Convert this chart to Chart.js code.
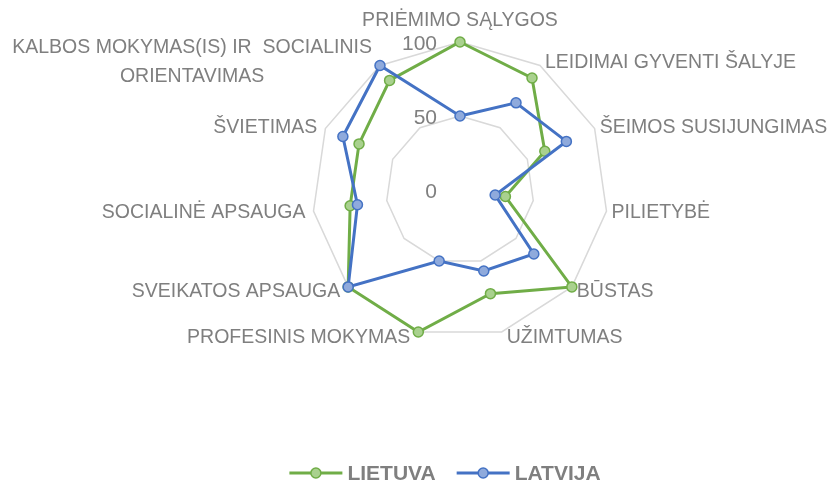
<!DOCTYPE html>
<html lang="lt">
<head>
    <meta charset="UTF-8" />
    <title>Radar</title>
    <script src="https://cdn.jsdelivr.net/npm/chart.js"></script>
    <style>
        body {
            margin: 0;
            padding: 0;
            background: #ffffff;
        }

        .chart-container {
            width: 832px;
            height: 482px;
        }
    </style>
</head>
<body>
    <div class="chart-container">
        <canvas id="myChart"></canvas>
    </div>

    <script>
        // Data
        const categories = [
            "PRIĖMIMO SĄLYGOS",
            "LEIDIMAI GYVENTI ŠALYJE",
            "ŠEIMOS SUSIJUNGIMAS",
            "PILIETYBĖ",
            "BŪSTAS",
            "UŽIMTUMAS",
            "PROFESINIS MOKYMAS",
            "SVEIKATOS APSAUGA",
            "SOCIALINĖ APSAUGA",
            "ŠVIETIMAS",
            ["KALBOS MOKYMAS(IS) IR  SOCIALINIS", "ORIENTAVIMAS"]
        ];
        const lietuva = [100, 90, 63, 31, 100, 73, 100, 100, 75, 75, 88];
        const latvija = [50, 70, 79, 24, 66, 57, 50, 100, 70, 87, 100];
        const tickValues = [0, 50, 100];

        const FONT = "'Liberation Sans', Arial, sans-serif";
        const GREY = "#7f7f7f";

        // Point labels placed next to the outer ring, Excel style
        const pointLabelPlugin = {
            id: "excelPointLabels",
            afterDraw(chart) {
                const s = chart.scales.r;
                const ctx = chart.ctx;
                ctx.save();
                ctx.font = "19.5px " + FONT;
                ctx.fillStyle = GREY;
                ctx.textBaseline = "middle";
                const lh = 29;
                s._pointLabels.forEach((lab, i) => {
                    const a = s.getIndexAngle(i);
                    const sin = Math.sin(a), cos = Math.cos(a);
                    const v = s.getPointPosition(i, s.drawingArea);
                    const lines = Array.isArray(lab) ? lab : [lab];
                    const maxW = Math.max(...lines.map(l => ctx.measureText(l).width));
                    let cx, yMid;
                    if (Math.abs(sin) < 0.05) {
                        cx = v.x;
                        yMid = v.y - 21;
                    } else if (sin > 0) {
                        cx = v.x + 5 + maxW / 2;
                        yMid = v.y - 5 * cos + 1;
                    } else {
                        cx = v.x - 8 - maxW / 2;
                        yMid = v.y - 5 * cos + 1;
                    }
                    ctx.textAlign = "center";
                    lines.forEach((l, k) => {
                        ctx.fillText(l, cx, yMid + (k - (lines.length - 1) / 2) * lh);
                    });
                });
                ctx.restore();
            }
        };

        // Tick labels to the left of the vertical axis
        const tickLabelPlugin = {
            id: "excelTicks",
            afterDraw(chart) {
                const s = chart.scales.r;
                const ctx = chart.ctx;
                ctx.save();
                ctx.font = "21px " + FONT;
                ctx.fillStyle = GREY;
                ctx.textAlign = "right";
                ctx.textBaseline = "middle";
                s.ticks.forEach(t => {
                    const y = s.yCenter - s.getDistanceFromCenterForValue(t.value);
                    ctx.fillText(String(t.value), s.xCenter - 23, y + 2);
                });
                ctx.restore();
            }
        };

        // Legend with line + marker samples
        const legendPlugin = {
            id: "excelLegend",
            afterDraw(chart) {
                const ctx = chart.ctx;
                const sets = chart.data.datasets;
                ctx.save();
                ctx.font = "bold 21px " + FONT;
                ctx.textBaseline = "middle";
                ctx.textAlign = "left";
                const lineLen = 53, gap = 5, spacing = 21;
                const widths = sets.map(d => lineLen + gap + ctx.measureText(d.label).width);
                const total = widths.reduce((a, b) => a + b, 0) + spacing * (sets.length - 1);
                let x = 445 - total / 2;
                const y = 473;
                sets.forEach((d, i) => {
                    ctx.strokeStyle = d.borderColor;
                    ctx.lineWidth = 3;
                    ctx.beginPath();
                    ctx.moveTo(x, y);
                    ctx.lineTo(x + lineLen, y);
                    ctx.stroke();
                    ctx.beginPath();
                    ctx.arc(x + lineLen / 2, y, 5, 0, Math.PI * 2);
                    ctx.fillStyle = d.pointBackgroundColor;
                    ctx.fill();
                    ctx.lineWidth = 1.5;
                    ctx.strokeStyle = d.pointBorderColor;
                    ctx.stroke();
                    ctx.fillStyle = GREY;
                    ctx.fillText(d.label, x + lineLen + gap, y + 1);
                    x += widths[i] + spacing;
                });
                ctx.restore();
            }
        };

        const ctx = document.getElementById("myChart").getContext("2d");
        const myChart = new Chart(ctx, {
            type: "radar",
            data: {
                labels: categories,
                datasets: [
                    {
                        label: "LIETUVA",
                        data: lietuva,
                        borderColor: "#70ad47",
                        backgroundColor: "#70ad47",
                        borderWidth: 3,
                        pointBackgroundColor: "#a9d18e",
                        pointBorderColor: "#70ad47",
                        pointBorderWidth: 1.5,
                        pointRadius: 5,
                        fill: false,
                        order: 1,
                        clip: false,
                    },
                    {
                        label: "LATVIJA",
                        data: latvija,
                        borderColor: "#4472c4",
                        backgroundColor: "#4472c4",
                        borderWidth: 3,
                        pointBackgroundColor: "#8faadc",
                        pointBorderColor: "#4472c4",
                        pointBorderWidth: 1.5,
                        pointRadius: 5,
                        fill: false,
                        order: 0,
                        clip: false,
                    },
                ],
            },
            options: {
                responsive: true,
                maintainAspectRatio: false,
                animation: false,
                layout: {
                    padding: { left: 260, right: 172, top: 42, bottom: 144 },
                },
                plugins: {
                    legend: { display: false },
                    tooltip: { enabled: false },
                },
                scales: {
                    r: {
                        min: 0,
                        max: 100,
                        afterBuildTicks: (s) => {
                            s.ticks = tickValues.map(v => ({ value: v }));
                        },
                        ticks: { display: false },
                        grid: { color: "#d9d9d9", lineWidth: 1.5 },
                        angleLines: { display: false },
                        pointLabels: { display: false },
                    },
                },
            },
            plugins: [pointLabelPlugin, tickLabelPlugin, legendPlugin],
        });
    </script>
</body>
</html>
